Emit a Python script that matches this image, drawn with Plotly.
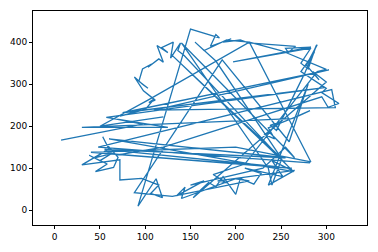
import plotly.graph_objects as go

x_vals = [7, 97, 58, 80, 72, 100, 110, 104, 111, 98, 88, 97, 103, 93, 97, 107, 103, 115, 120, 113,
          125, 118, 131, 128, 139, 136, 143, 262, 240, 252, 210, 228, 220, 205, 200, 186, 178, 170, 160, 153,
          300, 285, 292, 278, 290, 282, 287, 272, 300, 295, 314, 302, 295, 120, 70, 55, 45, 62, 50, 38,
          58, 45, 65, 70, 57, 53, 60, 30, 72, 72, 96, 115, 106, 119, 112, 92, 150, 182, 178, 172,
          195, 186, 205, 214, 266, 258, 255, 283, 197, 283, 272, 280, 289, 276, 245, 238, 251, 232, 243, 236,
          270, 282, 262, 30, 125, 57, 298, 75, 303, 110, 310, 306, 48, 282, 250, 240, 236, 140, 265, 255,
          230, 150, 165, 135, 144, 140, 200, 215, 130, 88, 185, 259, 280, 236, 265, 180, 190, 175, 210, 290,
          300, 250, 215, 190, 165, 155, 178, 250, 128, 264, 60, 255, 55, 262, 40, 200, 283, 215, 103, 50,
          120]
y_vals = [167, 205, 221, 228, 224, 240, 265, 256, 262, 284, 317, 300, 290, 307, 336, 348, 340, 360, 352, 392,
          375, 387, 400, 362, 398, 380, 368, 95, 118, 80, 100, 88, 62, 76, 38, 80, 56, 66, 46, 30,
          305, 330, 310, 345, 394, 360, 376, 330, 290, 280, 254, 245, 270, 150, 132, 140, 125, 134, 118, 131,
          110, 92, 102, 126, 158, 175, 146, 108, 120, 72, 76, 60, 40, 30, 75, 10, 431, 410, 418, 390,
          408, 400, 405, 398, 390, 375, 385, 388, 353, 386, 350, 336, 392, 325, 190, 202, 212, 180, 170, 196,
          225, 237, 218, 197, 197, 221, 292, 232, 334, 238, 244, 287, 150, 113, 118, 60, 100, 398, 125, 150,
          100, 60, 70, 35, 55, 28, 75, 70, 33, 42, 358, 163, 300, 60, 95, 70, 65, 85, 110, 330,
          335, 380, 400, 405, 380, 400, 355, 125, 372, 92, 170, 125, 145, 100, 138, 150, 115, 400, 262, 200,
          222]

x_ticks = [0, 50, 100, 150, 200, 250, 300]
y_ticks = [0, 100, 200, 300, 400]

fig = go.Figure()
fig.add_trace(go.Scatter(x=x_vals, y=y_vals, mode="lines",
                         line=dict(color="#1f77b4", width=1.3), showlegend=False))

axis_common = dict(showgrid=False, zeroline=False, showline=True, linecolor="black", linewidth=1,
                   mirror=True, ticks="outside", ticklen=3, tickwidth=1, tickcolor="black",
                   tickfont=dict(family="DejaVu Sans", size=9, color="black"))
fig.update_xaxes(range=[-24, 345], tickvals=x_ticks, **axis_common)
fig.update_yaxes(range=[-35, 474], tickvals=y_ticks, **axis_common)

fig.update_layout(width=378, height=252, margin=dict(l=33, r=10, t=10, b=24),
                  plot_bgcolor="white", paper_bgcolor="white")
fig.write_html("out.html")
